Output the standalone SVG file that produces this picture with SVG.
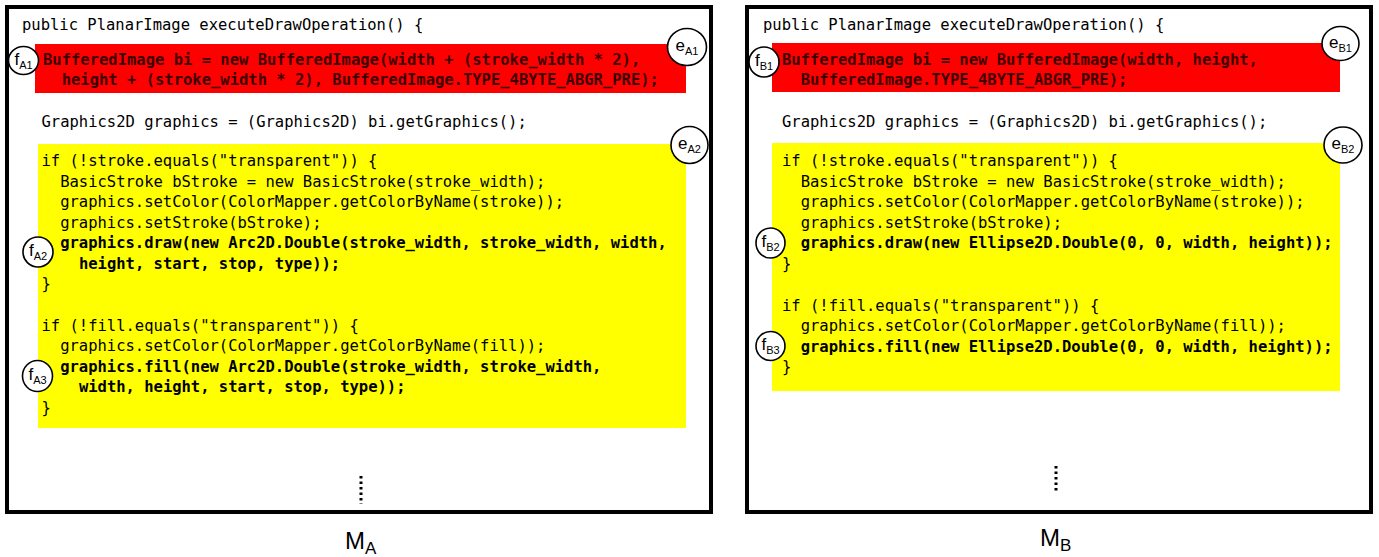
<svg xmlns="http://www.w3.org/2000/svg" width="1379" height="557" viewBox="0 0 1379 557">
  <style>
    .frame { fill: #ffffff; stroke: #000000; stroke-width: 4; }
    .hl-red { fill: #ff0000; }
    .hl-yel { fill: #ffff00; }
    .code { font-family: "DejaVu Sans Mono", "Liberation Mono", monospace; font-size: 15.5px; fill: #000000; }
    .bold { font-weight: bold; }
    .redtxt { font-weight: bold; fill: #3c0000; }
    .mark { fill: #ffffff; stroke: #000000; stroke-width: 1.6; }
    .lbl { font-family: "Liberation Sans", Arial, sans-serif; font-size: 17px; fill: #000000; text-anchor: middle; }
    .sub { font-size: 11px; }
    .title { font-family: "Liberation Sans", Arial, sans-serif; font-size: 24px; fill: #000000; }
    .title-sub { font-size: 17px; }
    .dots { stroke: #000000; stroke-width: 3; stroke-dasharray: 2.5 3; fill: none; }
  </style>

  <!-- Method A -->
  <g id="method-a">
    <rect class="frame" x="7" y="7" width="704" height="505"/>
    <text class="code" x="22" y="30">public PlanarImage executeDrawOperation() {</text>

    <g id="block-a1">
      <rect class="hl-red" x="35" y="44" width="651" height="49"/>
      <text class="code redtxt" x="43" y="65">BufferedImage bi = new BufferedImage(width + (stroke_width * 2),</text>
      <text class="code redtxt" x="61.7" y="85">height + (stroke_width * 2), BufferedImage.TYPE_4BYTE_ABGR_PRE);</text>
    </g>

    <text class="code" x="41.5" y="127">Graphics2D graphics = (Graphics2D) bi.getGraphics();</text>

    <g id="block-a2">
      <rect class="hl-yel" x="38" y="144" width="648" height="284"/>
      <text class="code" x="41.5" y="166">if (!stroke.equals("transparent")) {</text>
      <text class="code" x="60.2" y="187">BasicStroke bStroke = new BasicStroke(stroke_width);</text>
      <text class="code" x="60.2" y="207">graphics.setColor(ColorMapper.getColorByName(stroke));</text>
      <text class="code" x="60.2" y="228">graphics.setStroke(bStroke);</text>
      <text class="code bold" x="60.2" y="248">graphics.draw(new Arc2D.Double(stroke_width, stroke_width, width,</text>
      <text class="code bold" x="78.9" y="269">height, start, stop, type));</text>
      <text class="code" x="41.5" y="289">}</text>
      <text class="code" x="41.5" y="331">if (!fill.equals("transparent")) {</text>
      <text class="code" x="60.2" y="351">graphics.setColor(ColorMapper.getColorByName(fill));</text>
      <text class="code bold" x="60.2" y="372">graphics.fill(new Arc2D.Double(stroke_width, stroke_width,</text>
      <text class="code bold" x="78.9" y="392">width, height, start, stop, type));</text>
      <text class="code" x="41.5" y="413">}</text>
    </g>

    <line class="dots" x1="361" y1="476" x2="361" y2="504"/>
    <text class="title" x="345" y="549">M<tspan class="title-sub" dy="5">A</tspan></text>
  </g>

  <!-- Method B -->
  <g id="method-b">
    <rect class="frame" x="747" y="7" width="624" height="505"/>
    <text class="code" x="763" y="30">public PlanarImage executeDrawOperation() {</text>

    <g id="block-b1">
      <rect class="hl-red" x="772" y="43" width="568" height="49"/>
      <text class="code redtxt" x="782" y="65">BufferedImage bi = new BufferedImage(width, height,</text>
      <text class="code redtxt" x="800.7" y="85">BufferedImage.TYPE_4BYTE_ABGR_PRE);</text>
    </g>

    <text class="code" x="782" y="127">Graphics2D graphics = (Graphics2D) bi.getGraphics();</text>

    <g id="block-b2">
      <rect class="hl-yel" x="772" y="143" width="568" height="248"/>
      <text class="code" x="782" y="166">if (!stroke.equals("transparent")) {</text>
      <text class="code" x="800.7" y="187">BasicStroke bStroke = new BasicStroke(stroke_width);</text>
      <text class="code" x="800.7" y="207">graphics.setColor(ColorMapper.getColorByName(stroke));</text>
      <text class="code" x="800.7" y="228">graphics.setStroke(bStroke);</text>
      <text class="code bold" x="800.7" y="248">graphics.draw(new Ellipse2D.Double(0, 0, width, height));</text>
      <text class="code" x="782" y="269">}</text>
      <text class="code" x="782" y="311">if (!fill.equals("transparent")) {</text>
      <text class="code" x="800.7" y="331">graphics.setColor(ColorMapper.getColorByName(fill));</text>
      <text class="code bold" x="800.7" y="352">graphics.fill(new Ellipse2D.Double(0, 0, width, height));</text>
      <text class="code" x="782" y="372">}</text>
    </g>

    <line class="dots" x1="1056" y1="466" x2="1056" y2="493"/>
    <text class="title" x="1040" y="546">M<tspan class="title-sub" dy="5">B</tspan></text>
  </g>

  <!-- fragment / edit markers -->
  <g id="markers">
    <g id="f-a1"><ellipse class="mark" cx="23.5" cy="60.5" rx="15" ry="14"/><text class="lbl" x="23.5" y="65">f<tspan class="sub" dy="4">A1</tspan></text></g>
    <g id="e-a1"><ellipse class="mark" cx="687" cy="47" rx="19.5" ry="18.5"/><text class="lbl" x="687" y="51">e<tspan class="sub" dy="4">A1</tspan></text></g>
    <g id="e-a2"><ellipse class="mark" cx="689.5" cy="145" rx="18.5" ry="18.5"/><text class="lbl" x="689.5" y="149">e<tspan class="sub" dy="4">A2</tspan></text></g>
    <g id="f-a2"><ellipse class="mark" cx="38" cy="252" rx="15" ry="15"/><text class="lbl" x="38" y="256">f<tspan class="sub" dy="4">A2</tspan></text></g>
    <g id="f-a3"><ellipse class="mark" cx="37.5" cy="376" rx="15" ry="15.5"/><text class="lbl" x="37.5" y="380">f<tspan class="sub" dy="4">A3</tspan></text></g>

    <g id="f-b1"><ellipse class="mark" cx="764" cy="62" rx="15" ry="15"/><text class="lbl" x="764" y="66">f<tspan class="sub" dy="4">B1</tspan></text></g>
    <g id="e-b1"><ellipse class="mark" cx="1340.5" cy="43.5" rx="18.5" ry="17"/><text class="lbl" x="1340.5" y="47.5">e<tspan class="sub" dy="4">B1</tspan></text></g>
    <g id="e-b2"><ellipse class="mark" cx="1343" cy="145" rx="19" ry="18"/><text class="lbl" x="1343" y="149">e<tspan class="sub" dy="4">B2</tspan></text></g>
    <g id="f-b2"><ellipse class="mark" cx="770.5" cy="243" rx="14.5" ry="15"/><text class="lbl" x="770.5" y="247">f<tspan class="sub" dy="4">B2</tspan></text></g>
    <g id="f-b3"><ellipse class="mark" cx="770.5" cy="346" rx="14.5" ry="14.5"/><text class="lbl" x="770.5" y="350">f<tspan class="sub" dy="4">B3</tspan></text></g>
  </g>

  <!-- no connectors are drawn between the two methods -->
  <g id="connectors"/>
</svg>
